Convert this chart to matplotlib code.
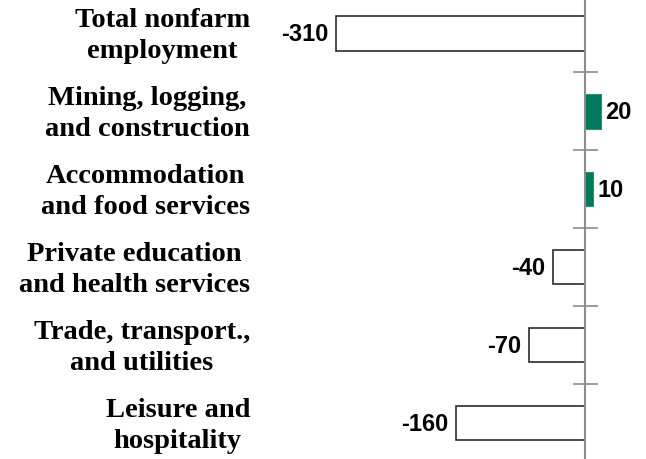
import matplotlib
matplotlib.use("Agg")
import matplotlib.pyplot as plt
import matplotlib.transforms as mtransforms

categories = [
    "Total nonfarm\nemployment",
    "Mining, logging,\nand construction",
    "Accommodation\nand food services",
    "Private education\nand health services",
    "Trade, transport.,\nand utilities",
    "Leisure and\nhospitality",
]
values = [-310, 20, 10, -40, -70, -160]

GREEN = "#007a5e"
AXIS_GRAY = "#8c8c8c"

fig = plt.figure(figsize=(6.46, 4.60), dpi=100)
ax = fig.add_axes([0, 0, 1, 1])

n = len(categories)
pos = list(range(n))
for i, v in zip(pos, values):
    if v >= 0:
        ax.barh(i, v, height=0.44, color=GREEN, edgecolor="#2e8b6e", linewidth=0.8, zorder=2)
    else:
        ax.barh(i, v, height=0.44, color="white", edgecolor="#2b2b2b", linewidth=1.2, zorder=2)

ax.set_xlim(-728.5, 76.0)
ax.set_ylim(5.462, -0.443)

for s in ["top", "right", "bottom"]:
    ax.spines[s].set_visible(False)
ax.spines["left"].set_position(("data", 0))
ax.spines["left"].set_color(AXIS_GRAY)
ax.spines["left"].set_linewidth(1.5)
ax.spines["left"].set_zorder(3)
ax.set_xticks([])
ax.set_yticks([p + 0.5 for p in pos[:-1]])
ax.tick_params(axis="y", direction="inout", length=18, width=1.2, color=AXIS_GRAY, labelleft=False)

# value labels
for i, v in zip(pos, values):
    if v >= 0:
        tr = mtransforms.offset_copy(ax.transData, fig=fig, x=4, y=0, units="dots")
        ax.text(v, i, f"{v}", transform=tr, ha="left", va="center",
                fontsize=17, fontweight="bold", family="Liberation Sans", color="black")
    else:
        tr = mtransforms.offset_copy(ax.transData, fig=fig, x=-8, y=0, units="dots")
        ax.text(v, i, f"{v}", transform=tr, ha="right", va="center",
                fontsize=17, fontweight="bold", family="Liberation Sans", color="black")

# category labels
blend = mtransforms.blended_transform_factory(ax.transAxes, ax.transData)
for i, c in zip(pos, categories):
    ax.text(250 / 646, i + 0.02, c, transform=blend, ha="right", va="center",
            multialignment="center", linespacing=1.32,
            fontsize=20.5, fontweight="bold", family="Liberation Serif", color="black")

fig.savefig("out.png", dpi=100, facecolor="white")
